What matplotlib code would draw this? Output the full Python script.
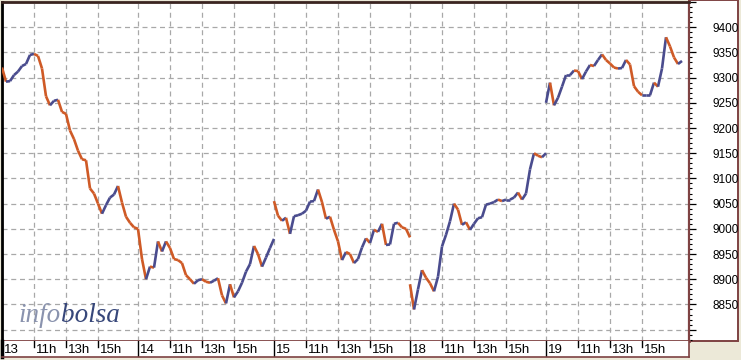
import numpy as np
import matplotlib
matplotlib.use("Agg")
import matplotlib.pyplot as plt
from matplotlib.collections import LineCollection
from matplotlib.patches import Rectangle

# ---------------- data (15-minute closes, 09:00 .. 17:30) ----------------
day_labels = ["13", "14", "15", "18", "19"]
hour_labels = ["11h", "13h", "15h"]
hour_ticks = [11, 13, 15]

day13 = [9320, 9292, 9293, 9305, 9312, 9323, 9327, 9345, 9347, 9343, 9318, 9263,
         9245, 9254, 9256, 9232, 9228, 9195, 9178, 9155, 9138, 9136, 9080, 9070,
         9050, 9030, 9047, 9062, 9068, 9085, 9052, 9024, 9012, 9003, 9000]
day14 = [9000, 8940, 8900, 8925, 8923, 8975, 8955, 8975, 8962, 8940, 8938, 8932,
         8908, 8900, 8891, 8898, 8900, 8895, 8893, 8897, 8902, 8868, 8852, 8890,
         8864, 8876, 8893, 8915, 8930, 8966, 8950, 8925, 8943, 8962, 8980]
day15 = [9055, 9026, 9016, 9022, 8990, 9025, 9027, 9030, 9036, 9054, 9055, 9078,
         9053, 9020, 9024, 8998, 8975, 8938, 8954, 8950, 8932, 8940, 8963, 8981,
         8972, 8998, 8994, 9010, 8968, 8969, 9010, 9012, 9003, 9000, 8983]
day18 = [8890, 8840, 8880, 8918, 8903, 8892, 8876, 8905, 8965, 8988, 9015, 9050,
         9038, 9008, 9013, 8998, 9010, 9021, 9023, 9048, 9050, 9053, 9058, 9055,
         9058, 9058, 9062, 9072, 9058, 9070, 9118, 9150, 9145, 9142, 9150]
day19 = [9250, 9290, 9245, 9260, 9282, 9305, 9305, 9314, 9313, 9297, 9312, 9325,
         9323, 9335, 9346, 9335, 9328, 9320, 9318, 9319, 9335, 9326, 9283, 9272,
         9265, 9265, 9265, 9290, 9282, 9318, 9380, 9362, 9340, 9327, 9333]
series = [day13, day14, day15, day18, day19]

y_labels = [8850, 8900, 8950, 9000, 9050, 9100, 9150, 9200, 9250, 9300, 9350, 9400]

# ---------------- styling ----------------
W, H = 741, 360
plt.rcParams["font.family"] = ["Liberation Sans", "DejaVu Sans"]
fig = plt.figure(figsize=(W / 100, H / 100), dpi=100, facecolor="#ECE9D8")

maroon = "#7E4242"
up_col = "#4A4C8E"
dn_col = "#CF5A26"
grid_col = "#A8A8A8"

def fx(px):
    return px / W

def fy(py):
    return 1 - py / H

L, R, T, B = 2, 689, 2, 341

# right panel background (behind axes)
fig.patches.append(Rectangle((fx(R), fy(B)), fx(738 - R), fy(0) - fy(B),
                             transform=fig.transFigure, facecolor="white",
                             edgecolor=maroon, lw=1.4, zorder=-5))

ax = fig.add_axes([fx(L), fy(B), fx(R - L), fy(T) - fy(B)])
ax.set_facecolor("white")

session = 8.5
xmax = (R - L) / 16.0
ax.set_xlim(0, xmax)
y_top = 9400 + (23.5 - T) * 50 / 25.5
y_bot = 9400 - (B - 23.5) * 50 / 25.5
ax.set_ylim(y_bot, y_top)

# grid
for v in range(8800, 9451, 50):
    ax.axhline(v, color=grid_col, lw=0.9, ls=(0, (4, 3)), zorder=1)
vgrid = []
for d in range(len(day_labels)):
    base = d * session
    vgrid.append(base)
    for h in hour_ticks:
        vgrid.append(base + (h - 9))
for xv in vgrid:
    ax.axvline(xv, color=grid_col, lw=0.9, ls=(0, (4, 3)), zorder=1)

# series
for d, vals in enumerate(series):
    vals = np.asarray(vals, dtype=float)
    xs = d * session + np.arange(len(vals)) * 0.25
    pts = np.column_stack([xs, vals])
    segs = np.stack([pts[:-1], pts[1:]], axis=1)
    cols = [up_col if vals[i + 1] >= vals[i] else dn_col for i in range(len(vals) - 1)]
    lc = LineCollection(segs, colors=cols, linewidths=1.9, zorder=3, capstyle="butt")
    ax.add_collection(lc)

# spines / ticks
ax.set_xticks([])
ax.spines["left"].set_color("black")
ax.spines["left"].set_linewidth(2.0)
ax.spines["top"].set_color("#3A2420")
ax.spines["top"].set_linewidth(2.0)
ax.spines["right"].set_color(maroon)
ax.spines["right"].set_linewidth(1.6)
ax.spines["bottom"].set_color(maroon)
ax.spines["bottom"].set_linewidth(2.0)

ax.yaxis.tick_right()
major = list(range(8800, 9451, 50))
ax.set_yticks(major)
ax.set_yticklabels([str(v) if v in y_labels else "" for v in major])
ax.set_yticks(list(range(8780, 9441, 10)), minor=True)
ax.tick_params(axis="y", which="major", length=5, width=0.9, color="black",
               direction="out", pad=12, labelsize=8.5, labelcolor="black")
ax.tick_params(axis="y", which="minor", length=2.5, width=0.8, color="black",
               direction="out")

# watermark
t1 = fig.text(fx(18), fy(322), "info", fontsize=19.5, color="#8A93AE",
              family="Liberation Serif", style="italic", ha="left", va="baseline", zorder=5)
fig.canvas.draw()
bb = t1.get_window_extent()
fig.text(bb.x1 / W + 0.001, fy(322), "bolsa", fontsize=19.5, color="#37477A",
         family="Liberation Serif", style="italic", ha="left", va="baseline", zorder=5)

# x-axis band
bt, bbm = 341, 357
axb = fig.add_axes([fx(L), fy(bbm), fx(R - L), fy(bt) - fy(bbm)])
axb.set_facecolor("white")
axb.set_xlim(0, xmax)
axb.set_ylim(0, 1)
axb.set_xticks([])
axb.set_yticks([])
axb.spines["top"].set_visible(False)
axb.spines["bottom"].set_color(maroon)
axb.spines["bottom"].set_linewidth(1.2)
axb.spines["right"].set_color(maroon)
axb.spines["right"].set_linewidth(1.2)
axb.spines["left"].set_color("black")
axb.spines["left"].set_linewidth(2.5)

off = 2.0 / 16.0
for d, lab in enumerate(day_labels):
    base = d * session
    if d > 0:
        axb.axvline(base, color="black", lw=1.0)
    axb.text(base + off, 0.42, lab, fontsize=9.5, ha="left", va="center", color="black")
    for h, hl in zip(hour_ticks, hour_labels):
        xv = base + (h - 9)
        axb.plot([xv, xv], [1, 0.62], color="black", lw=1.0)
        axb.text(xv + off, 0.42, hl, fontsize=9.5, ha="left", va="center", color="black")

fig.savefig("out.png", dpi=100, facecolor=fig.get_facecolor())
